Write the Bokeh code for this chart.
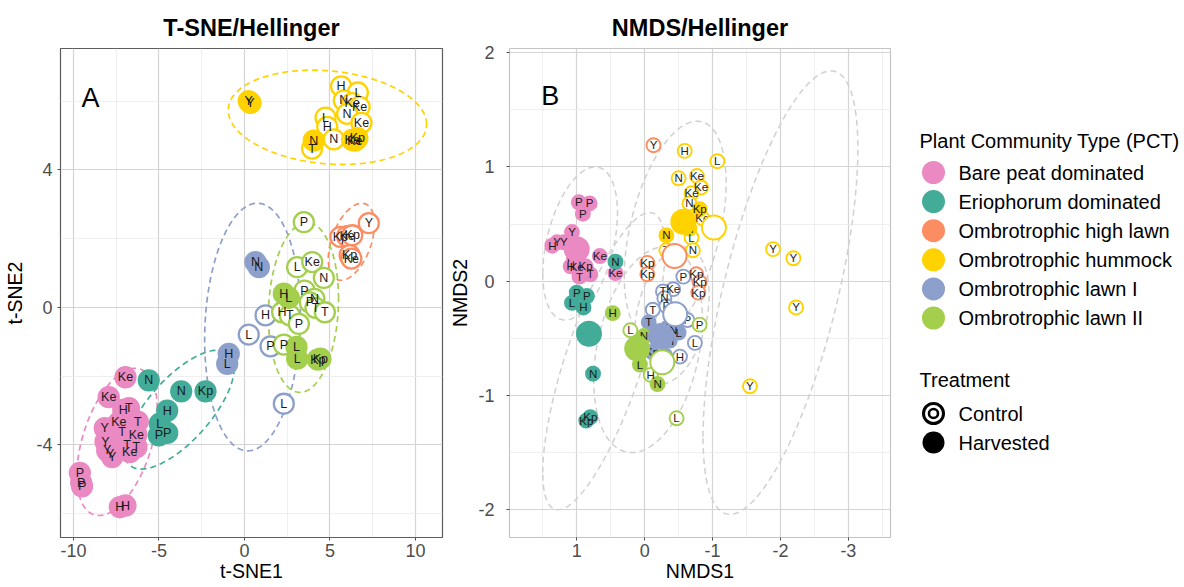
import numpy as np
from bokeh.plotting import figure
from bokeh.models import ColumnDataSource, Range1d, FixedTicker, Label, PrintfTickFormatter
from bokeh.layouts import row
from bokeh.embed import file_html
from bokeh.resources import INLINE
from bokeh.core.properties import value

FONT = "Liberation Sans"

# ---------------- categories ----------------
pct_codes = ["BP", "ER", "HL", "HU", "L1", "L2"]
pct_names = ["Bare peat dominated", "Eriophorum dominated", "Ombrotrophic high lawn",
             "Ombrotrophic hummock", "Ombrotrophic lawn I", "Ombrotrophic lawn II"]
pct_colors = ["#EA89C2", "#42AC99", "#FC8D62", "#FFD200", "#8DA0CB", "#A3CF4C"]
trt_names = ["Control", "Harvested"]

# ---------------- t-SNE points ----------------
ts_x = [-6.96, -7.94, -7.09, -6.76, -6.24, -7.35, -8.17, -7.16, -6.32, -8.13, -6.86, -6.32, -6.71, -8.03, -7.74, -7.85, -9.63, -9.55, -9.50, -7.29, -6.96,
        -5.60, -3.70, -2.28, -4.52, -4.95, -5.01, -4.52,
        7.27, 5.61, 6.00, 6.30, 6.15, 6.25,
        5.65, 6.63, 5.81, 6.30, 6.73, 6.00, 6.84, 4.74, 4.84, 5.22, 3.95, 6.30, 4.05, 6.60, 6.45, 0.25, 0.35,
        1.23, 0.25, 1.52, 2.30, 0.64, 0.84, -0.92, -1.01,
        3.47, 3.08, 3.96, 4.64, 3.51, 4.09, 3.82, 4.15, 4.70, 2.20, 2.65, 3.18, 2.30, 2.30, 2.59, 3.04, 3.08, 4.29, 4.44]
ts_y = [-2.03, -2.61, -2.98, -2.93, -3.32, -3.34, -3.51, -3.63, -3.70, -3.90, -3.99, -4.06, -4.21, -4.16, -4.35, -4.25, -4.81, -5.10, -5.20, -5.81, -5.76,
        -2.12, -2.44, -2.44, -3.00, -3.38, -3.72, -3.65,
        2.45, 2.05, 2.07, 2.10, 1.52, 1.42,
        6.43, 6.25, 6.02, 5.94, 5.83, 5.63, 5.37, 5.52, 5.25, 4.89, 4.62, 4.87, 4.85, 4.92, 4.85, 6.00, 5.95,
        -0.23, -0.79, -1.13, -2.80, 1.32, 1.17, -1.35, -1.64,
        2.48, 1.17, 1.32, 0.86, 0.49, 0.25, 0.15, -0.01, -0.14, -0.14, -0.23, -0.48, -1.08, 0.40, 0.28, -1.15, -1.49, -1.52, -1.49]
ts_lab = ["Ke", "Ke", "H", "T", "T", "Ke", "Y", "T", "Ke", "Y", "T", "T", "Ke", "Y", "Y", "Y", "P", "P", "P", "H", "H",
          "N", "N", "Kp", "H", "L", "P", "P",
          "Y", "Kp", "Ke", "Kp", "Kp", "Ke",
          "H", "L", "N", "Ke", "Ke", "N", "Ke", "L", "H", "N", "T", "Ke", "N", "Kp", "Ke", "Y", "Y",
          "H", "L", "P", "L", "N", "N", "H", "L",
          "P", "L", "Ke", "N", "P", "N", "P", "T", "T", "H", "T", "P", "P", "H", "L", "L", "L", "Kp", "Kp"]
ts_pct = ["BP"] * 21 + ["ER"] * 7 + ["HL"] * 6 + ["HU"] * 17 + ["L1"] * 8 + ["L2"] * 19
ts_trt = (["H"] * 21 + ["H"] * 7 + ["C"] * 6
          + ["C"] * 12 + ["H", "H", "H", "H", "H"]
          + ["C", "C", "C", "C", "H", "H", "H", "H"]
          + ["C"] * 13 + ["H"] * 6)

# t-SNE ellipses: centre x, half width, centre y, half height, correlation
ts_ell_cx = [-7.45, -3.80, 6.25, 4.85, 0.47, 3.45]
ts_ell_rx = [2.35, 3.20, 1.35, 5.80, 2.80, 2.05]
ts_ell_cy = [-3.91, -2.97, 1.91, 5.53, -0.57, 0.00]
ts_ell_ry = [2.14, 1.73, 1.12, 1.37, 3.60, 2.47]
ts_ell_rho = [0.45, 0.70, 0.45, -0.15, 0.10, 0.10]

# ---------------- NMDS points ----------------
nm_x = [0.97, 0.81, 0.91, 1.07, 1.19, 1.29, 1.36, 0.66, 0.43, 1.04, 1.09, 1.00, 0.87, 0.96, 0.80,
        0.43, 1.00, 0.85, 1.07, 0.90, 0.76, 0.86, 0.80,
        -0.13, -0.04, -0.04, -0.76, -0.81, -0.79,
        -0.59, -1.07, -0.50, -0.77, -0.83, -0.69, -0.66, -0.85, -0.69, -0.32, -0.71, -1.89, -2.19, -2.23, -1.55, -0.81, -0.66, -0.32,
        -0.57, -0.42, -0.27, -0.29, -0.32, -0.12, -0.63, -0.74, -0.52, -0.06, -0.23, -0.33, -0.42, -0.50, -0.37, -0.11, -0.30,
        -0.81, 0.21, -0.09, -0.47, 0.47, 0.01, 0.07, -0.19]
nm_y = [0.69, 0.68, 0.59, 0.43, 0.34, 0.34, 0.31, 0.22, 0.07, 0.20, 0.13, 0.12, 0.13, 0.04, 0.06,
        0.17, -0.10, -0.13, -0.19, -0.23, -0.81, -1.22, -1.19,
        1.19, 0.16, 0.06, 0.06, -0.01, -0.10,
        1.14, 1.05, 0.90, 0.92, 0.82, 0.77, 0.68, 0.55, 0.38, 0.27, 0.27, 0.28, 0.20, -0.23, -0.92, 0.63, 0.46, 0.40,
        0.04, -0.07, -0.09, -0.15, -0.22, -0.25, -0.34, -0.54, -0.66, -0.36, -0.45, -0.41, -0.43, -0.45, -0.52, -0.62, -0.65,
        -0.38, -0.43, -0.82, -1.20, -0.28, -0.48, -0.73, -0.90]
nm_lab = ["P", "P", "P", "Y", "Y", "Y", "H", "Ke", "Ke", "Ke", "H", "Ke", "Kp", "T", "T",
          "N", "P", "P", "L", "H", "N", "Kp", "Kp",
          "Y", "Kp", "Kp", "Kp", "Kp", "Kp",
          "H", "L", "N", "Ke", "Ke", "Ke", "N", "Ke", "L", "T", "N", "Y", "Y", "Y", "Y", "Kp", "H", "N",
          "P", "Ke", "T", "N", "P", "T", "P", "L", "H", "T", "L", "T", "N", "L", "H", "Kp", "Kp",
          "P", "L", "H", "L", "H", "N", "L", "N"]
nm_pct = ["BP"] * 15 + ["ER"] * 8 + ["HL"] * 6 + ["HU"] * 18 + ["L1"] * 17 + ["L2"] * 8
nm_trt = (["H"] * 15 + ["H"] * 8 + ["C"] * 6
          + ["C"] * 15 + ["H"] * 3
          + ["C"] * 9 + ["H"] * 8
          + ["C"] * 4 + ["H"] * 4)

# NMDS group centroids
nc_x = [1.00, 0.82, -0.57, -1.02, -0.44, -0.45, -0.24, 0.11, -0.26]
nc_y = [0.28, -0.46, 0.52, 0.47, 0.22, -0.29, -0.48, -0.59, -0.71]
nc_pct = ["BP", "ER", "HU", "HU", "HL", "L1", "L1", "L2", "L2"]
nc_trt = ["H", "H", "H", "C", "C", "C", "H", "H", "C"]

# NMDS ellipses
nm_ell_cx = [0.95, 0.60, -0.45, -2.00, -0.40, -0.05]
nm_ell_rx = [0.55, 0.90, 0.75, 1.14, 0.55, 0.80]
nm_ell_cy = [0.33, -0.70, 0.45, -0.10, -0.30, -0.60]
nm_ell_ry = [0.67, 1.30, 0.95, 1.94, 0.60, 0.90]
nm_ell_rho = [-0.40, -0.75, -0.43, -0.65, -0.30, -0.30]

col = dict(zip(pct_codes, pct_colors))


def ellipse(cx, rx, cy, ry, rho, n=240):
    t = np.linspace(0, 2 * np.pi, n)
    d = np.arccos(rho)
    return cx + rx * np.cos(t), cy + ry * np.cos(t - d)


def make_src(xs, ys, pcts, trts, labs=None):
    d = dict(x=list(xs), y=list(ys),
             line=[col[c] for c in pcts],
             fill=[col[c] if t == "H" else "white" for c, t in zip(pcts, trts)])
    if labs is not None:
        d["lab"] = list(labs)
    return ColumnDataSource(d)


def style(p, xt, xm, yt, ym, outline, ylab_standoff, ytick_standoff, ttl_standoff):
    p.title.text_font = FONT
    p.title.text_font_size = "23.5px"
    p.title.text_font_style = "bold"
    p.title.align = "center"
    p.title.text_color = "black"
    p.title.standoff = ttl_standoff
    p.outline_line_color = outline
    p.outline_line_width = 1.2
    p.xaxis.ticker = FixedTicker(ticks=xt, minor_ticks=xm)
    p.yaxis.ticker = FixedTicker(ticks=yt, minor_ticks=ym)
    p.xgrid.ticker = FixedTicker(ticks=xt, minor_ticks=xm)
    p.ygrid.ticker = FixedTicker(ticks=yt, minor_ticks=ym)
    for g in (p.xgrid, p.ygrid):
        g.grid_line_color = "#d4d4d4"
        g.grid_line_width = 1.2
        g.minor_grid_line_color = "#ebebeb"
        g.minor_grid_line_width = 0.8
    for ax in p.axis:
        ax.formatter = PrintfTickFormatter(format="%d")
        ax.axis_line_color = None
        ax.major_tick_line_color = "#4d4d4d"
        ax.major_tick_out = 3
        ax.major_tick_in = 0
        ax.minor_tick_line_color = None
        ax.major_label_text_font = FONT
        ax.major_label_text_font_size = "18px"
        ax.major_label_text_color = "#4d4d4d"
        ax.axis_label_text_font = FONT
        ax.axis_label_text_font_size = "19.5px"
        ax.axis_label_text_font_style = "normal"
        ax.axis_label_text_color = "black"
    p.xaxis.major_label_standoff = 2
    p.xaxis.axis_label_standoff = 0
    p.yaxis.major_label_standoff = ytick_standoff
    p.yaxis.axis_label_standoff = ylab_standoff


H = 587
TOP, BOT = 48, 50
# ---------------- t-SNE panel ----------------
p1 = figure(width=446, height=H, x_range=Range1d(-10.76, 11.58), y_range=Range1d(-6.69, 7.53),
            output_backend="svg", toolbar_location=None, title="T-SNE/Hellinger",
            min_border_left=60, min_border_right=4, min_border_top=TOP, min_border_bottom=BOT,
            x_axis_label="t-SNE1", y_axis_label="t-SNE2")
style(p1, [-10, -5, 0, 5, 10], [-7.5, -2.5, 2.5, 7.5], [-4, 0, 4], [-6, -2, 2, 6], "#5c5c5c", 7, 4, 16)

for k, c in enumerate(pct_codes):
    ex, ey = ellipse(ts_ell_cx[k], ts_ell_rx[k], ts_ell_cy[k], ts_ell_ry[k], ts_ell_rho[k])
    p1.line(ex, ey, line_color=pct_colors[k], line_width=1.7, line_dash="6 4")

src1 = make_src(ts_x, ts_y, ts_pct, ts_trt, ts_lab)
p1.scatter("x", "y", source=src1, size=20, fill_color="fill", line_color="line", line_width=2.3)
p1.text("x", "y", text="lab", source=src1, text_font=value(FONT), text_font_size="12.5px",
        text_align="center", text_baseline="middle", text_color="#1a1a1a")
p1.add_layout(Label(x=-9.0, y=6.1, text="A", text_font=FONT, text_font_size="27px",
                    text_align="center", text_baseline="middle", text_color="black"))

# ---------------- NMDS panel ----------------
p2 = figure(width=448, height=H, x_range=Range1d(1.99, -3.62), y_range=Range1d(-2.243, 2.036),
            output_backend="svg", toolbar_location=None, title="NMDS/Hellinger",
            min_border_left=63, min_border_right=4, min_border_top=TOP, min_border_bottom=BOT,
            x_axis_label="NMDS1", y_axis_label="NMDS2")
style(p2, [2, 1, 0, -1, -2, -3], [1.5, 0.5, -0.5, -1.5, -2.5, -3.5], [2, 1, 0, -1, -2], [1.5, 0.5, -0.5, -1.5],
      "#c4c4c4", 4, 11, 16)

for k, c in enumerate(pct_codes):
    ex, ey = ellipse(nm_ell_cx[k], nm_ell_rx[k], nm_ell_cy[k], nm_ell_ry[k], nm_ell_rho[k])
    p2.line(ex, ey, line_color="#d0d0d0", line_width=1.5, line_dash="6 4")

src2 = make_src(nm_x, nm_y, nm_pct, nm_trt, nm_lab)
p2.scatter("x", "y", source=src2, size=14, fill_color="fill", line_color="line", line_width=1.9)
p2.text("x", "y", text="lab", source=src2, text_font=value(FONT), text_font_size="11.5px",
        text_align="center", text_baseline="middle", text_color="#1a1a1a")
src3 = make_src(nc_x, nc_y, nc_pct, nc_trt)
p2.scatter("x", "y", source=src3, size=24, fill_color="fill", line_color="line", line_width=2.0)
p2.add_layout(Label(x=1.39, y=1.62, text="B", text_font=FONT, text_font_size="27px",
                    text_align="center", text_baseline="middle", text_color="black"))

# ---------------- legend panel (coordinates = pixels from panel's left / page top) ----------------
LW = 290
p3 = figure(width=LW, height=H, x_range=Range1d(0, LW), y_range=Range1d(H - BOT, TOP),
            output_backend="svg", toolbar_location=None, x_axis_type=None, y_axis_type=None,
            min_border_left=0, min_border_right=0, min_border_top=TOP, min_border_bottom=BOT)
p3.outline_line_color = None
p3.xgrid.visible = False
p3.ygrid.visible = False

tx, cxl, lx = 25, 39, 64
y0, step = 172, 29.1
p3.text([tx], [140], text=["Plant Community Type (PCT)"], text_font=value(FONT), text_font_size="20px",
        text_baseline="middle", text_color="black")
ly = [y0 + step * i for i in range(len(pct_codes))]
p3.scatter([cxl] * len(ly), ly, size=23, fill_color=pct_colors, line_color=None)
p3.text([lx] * len(ly), ly, text=pct_names, text_font=value(FONT), text_font_size="20px",
        text_baseline="middle", text_color="black")

ty = 379
p3.text([tx], [ty], text=["Treatment"], text_font=value(FONT), text_font_size="20px",
        text_baseline="middle", text_color="black")
ty1, ty2 = ty + 34, ty + 63
p3.scatter([cxl], [ty1], size=20, fill_color="white", line_color="black", line_width=3)
p3.scatter([cxl], [ty1], size=9, fill_color="white", line_color="black", line_width=2.6)
p3.scatter([cxl], [ty2], size=22, fill_color="black", line_color=None)
p3.text([lx, lx], [ty1, ty2], text=trt_names, text_font=value(FONT), text_font_size="20px",
        text_baseline="middle", text_color="black")

layout = row(p1, p2, p3)
open("out.html", "w").write(file_html(layout, INLINE))
